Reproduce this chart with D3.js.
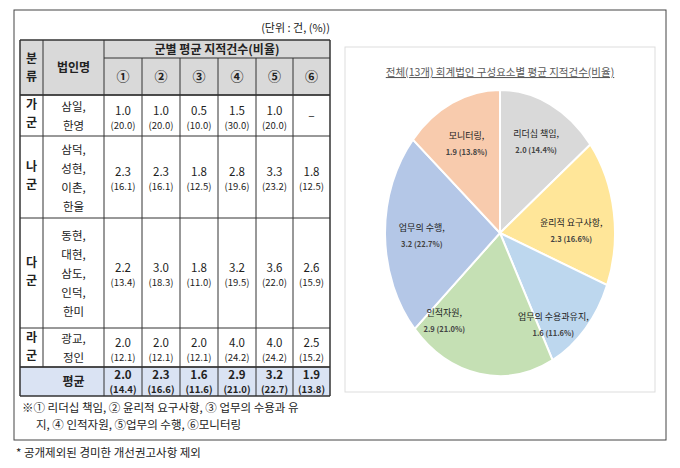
<!DOCTYPE html>
<html><head><meta charset="utf-8">
<script src="https://cdn.jsdelivr.net/npm/d3@7"></script>
<style>body{margin:0;background:#fff}text{font-family:"Noto Sans CJK KR",sans-serif;fill:#222}</style>
</head><body><svg id="c" width="680" height="468"></svg>
<script>
"use strict";
const groups = ['가군', '나군', '다군', '라군'];
const firms = [['삼일,', '한영'], ['삼덕,', '성현,', '이촌,', '한울'], ['동현,', '대현,', '삼도,', '인덕,', '한미'], ['광교,', '정인']];
const counts = [[1.0, 1.0, 0.5, 1.5, 1.0, null], [2.3, 2.3, 1.8, 2.8, 3.3, 1.8], [2.2, 3.0, 1.8, 3.2, 3.6, 2.6], [2.0, 2.0, 2.0, 4.0, 4.0, 2.5]];
const ratios = [[20.0, 20.0, 10.0, 30.0, 20.0, null], [16.1, 16.1, 12.5, 19.6, 23.2, 12.5], [13.4, 18.3, 11.0, 19.5, 22.0, 15.9], [12.1, 12.1, 12.1, 24.2, 24.2, 15.2]];
const avgCounts = [2.0, 2.3, 1.6, 2.9, 3.2, 1.9];
const avgRatios = [14.4, 16.6, 11.6, 21.0, 22.7, 13.8];
const colHeads = ['①', '②', '③', '④', '⑤', '⑥'];
const pieNames = ['리더십 책임,', '윤리적 요구사항,', '업무의 수용과유지,', '인적자원,', '업무의 수행,', '모니터링,'];
const pieColors = ['#d9d9d9', '#ffe699', '#bdd7ee', '#c5e0b4', '#b4c7e7', '#f8cbad'];

const svg = d3.select('#c');
svg.append('rect').attr('x', 14).attr('y', 10).attr('width', 652).attr('height', 430).attr('fill', 'none').attr('stroke', '#444').attr('stroke-width', 1);
svg.append('text').attr('x', 330).attr('y', 32).attr('text-anchor', 'end').attr('font-size', 11).text('(단위 : 건, (%))');

// table geometry
const colX = [20, 43, 104, 142, 180, 218, 256, 293, 330];
const rowY = [40, 58, 95, 136, 218, 328, 367, 396];
const tbl = svg.append('g');
tbl.append('rect').attr('x', 20).attr('y', 40).attr('width', 310).attr('height', 55).attr('fill', '#d9d9d9');
tbl.append('rect').attr('x', 20).attr('y', 367).attr('width', 310).attr('height', 29).attr('fill', '#dae3f3');
const line = (x1, y1, x2, y2, w) => tbl.append('line').attr('x1', x1).attr('y1', y1).attr('x2', x2).attr('y2', y2).attr('stroke', '#333').attr('stroke-width', w || 1);
rowY.slice(2).forEach(y => line(20, y, 330, y, y === 396 ? 1.5 : 1));
line(104, 58, 330, 58);
line(20, 40, 330, 40, 1.5);
line(20, 95, 330, 95, 1.5);
line(20, 367, 330, 367, 1.5);
colX.forEach((x, i) => {
  if (i === 1) line(x, 40, x, 367);
  else if (i >= 3 && i <= 7) line(x, 58, x, 396);
  else line(x, 40, x, 396, i === 0 || i === 8 ? 1.5 : 1);
});
const t = (x, y, s, size, bold) => tbl.append('text').attr('x', x).attr('y', y).attr('text-anchor', 'middle').attr('font-size', size).attr('font-weight', bold ? 'bold' : 'normal').text(s);
t(31.5, 63, '분', 12, true); t(31.5, 81, '류', 12, true);
t(73.5, 72, '법인명', 12, true);
t(217, 54, '군별  평균  지적건수(비율)', 12, true);
colHeads.forEach((h, i) => t((colX[i + 2] + colX[i + 3]) / 2, 81, h, 13, true));
groups.forEach((g, r) => {
  const y0 = rowY[r + 2], y1 = rowY[r + 3], cy = (y0 + y1) / 2;
  const r0 = r === 0 ? y0 + 14 : cy - 6;
  t(31.5, r0, g[0], 12, true); t(31.5, r0 + 18, g[1], 12, true);
  const n = firms[r].length;
  firms[r].forEach((f, k) => t(73.5, cy + 5 + (k - (n - 1) / 2) * 19, f, 11.5));
  counts[r].forEach((v, c) => {
    const x = (colX[c + 2] + colX[c + 3]) / 2;
    if (v === null) { t(x, cy + 4, '–', 12); return; }
    t(x, cy - 1, v.toFixed(1), 11.5);
    t(x, cy + 13, '(' + ratios[r][c].toFixed(1) + ')', 9.5);
  });
});
t(73.5, 386, '평균', 12, true);
avgCounts.forEach((v, c) => {
  const x = (colX[c + 2] + colX[c + 3]) / 2;
  t(x, 379, v.toFixed(1), 11.5, true);
  t(x, 393, '(' + avgRatios[c].toFixed(1) + ')', 9.5, true);
});
svg.append('text').attr('x', 22).attr('y', 412).attr('font-size', 11.5).text('※① 리더십 책임, ② 윤리적 요구사항, ③ 업무의 수용과 유');
svg.append('text').attr('x', 36).attr('y', 429).attr('font-size', 11.5).text('지, ④ 인적자원, ⑤업무의 수행, ⑥모니터링');
svg.append('text').attr('x', 16).attr('y', 457).attr('font-size', 11.5).text('* 공개제외된 경미한 개선권고사항 제외');

// pie chart
svg.append('rect').attr('x', 345).attr('y', 47).attr('width', 310).attr('height', 345).attr('fill', '#fff').attr('stroke', '#ddd');
svg.append('text').attr('x', 500).attr('y', 76).attr('text-anchor', 'middle').attr('font-size', 10.5).style('fill', '#595959').attr('text-decoration', 'underline').text('전체(13개) 회계법인 구성요소별 평균 지적건수(비율)');
const cx = 500, cy = 233, rx = 115, ry = 143;
const pie = d3.pie().sort(null)(avgCounts);
const arc = d3.arc().innerRadius(0).outerRadius(ry);
const pg = svg.append('g').attr('transform', `translate(${cx},${cy}) scale(${rx / ry},1)`);
pg.selectAll('path').data(pie).join('path').attr('d', arc).attr('fill', (d, i) => pieColors[i]).attr('stroke', '#fff').attr('stroke-width', 2).attr('vector-effect', 'non-scaling-stroke');
const angShift = [0, 0.1, 0.2, 0.5, 0, 0], rad = [0.72, 0.62, 0.78, 0.77, 0.68, 0.7];
pie.forEach((d, i) => {
  const a = (d.startAngle + d.endAngle) / 2 + angShift[i], k = rad[i];
  const x = cx + rx * k * Math.sin(a), y = cy - ry * k * Math.cos(a);
  svg.append('text').attr('x', x).attr('y', y - 3).attr('text-anchor', 'middle').attr('font-size', 9).text(pieNames[i]);
  svg.append('text').attr('x', x).attr('y', y + 13).attr('text-anchor', 'middle').attr('font-size', 7.5).attr('font-weight', 'bold').style('fill', '#444').text(avgCounts[i].toFixed(1) + ' (' + avgRatios[i].toFixed(1) + '%)');
});
</script></body></html>
